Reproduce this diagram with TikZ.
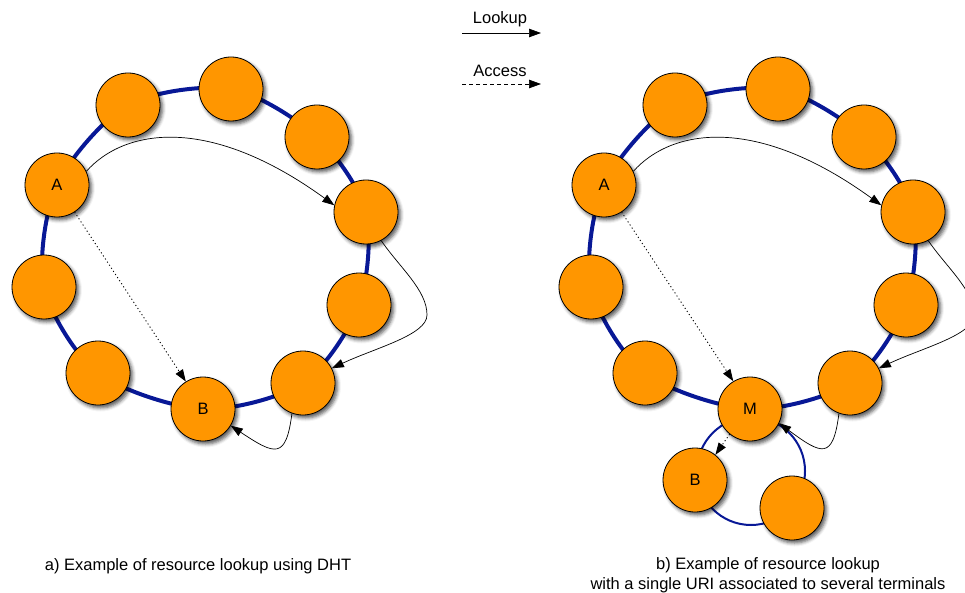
\documentclass[tikz,border=0pt]{standalone}
\usepackage{fontspec}
\setmainfont{Liberation Sans}
\usetikzlibrary{arrows.meta,shadows.blur}
\definecolor{peerorange}{RGB}{255,150,0}
\definecolor{ringblue}{RGB}{8,24,150}
\begin{document}
\begin{tikzpicture}[x=1pt,y=-1pt,
  txt/.style={font=\fontsize{16.5}{20}\selectfont},
  peer/.style={circle,draw=black,line width=0.8pt,fill=peerorange,minimum size=64pt,inner sep=0pt,txt,
    blur shadow={shadow xshift=2.5pt,shadow yshift=-3pt,shadow blur radius=3.5pt,shadow opacity=65}},
  ring/.style={draw=ringblue,line width=4pt},
  smallring/.style={draw=ringblue,line width=2pt},
  lookup/.style={-{Triangle[length=12pt,width=8.5pt]},line width=0.7pt},
  access/.style={lookup,line width=0.9pt,dash pattern=on 1.1pt off 2.6pt},
  legacc/.style={lookup,dash pattern=on 4pt off 3pt}]
\useasboundingbox (0,0) rectangle (965,593);

% ---------- a) ----------
\begin{scope}
\coordinate (pA) at (57,185);
\coordinate (p1) at (128,105);
\coordinate (p2) at (231,89);
\coordinate (p3) at (317,137);
\coordinate (p4) at (366,212);
\coordinate (p5) at (359,305);
\coordinate (p6) at (303,383);
\coordinate (pB) at (203,409);
\coordinate (p8) at (98,373);
\coordinate (p9) at (44,287);
\draw[ring] plot[smooth cycle] coordinates {(pA) (p1) (p2) (p3) (p4) (p5) (p6) (pB) (p8) (p9)};
\node[peer] (A) at (pA) {A};
\node[peer] (n1) at (p1) {};
\node[peer] (n2) at (p2) {};
\node[peer] (n3) at (p3) {};
\node[peer] (n4) at (p4) {};
\node[peer] (n5) at (p5) {};
\node[peer] (n6) at (p6) {};
\node[peer] (B) at (pB) {B};
\node[peer] (n8) at (p8) {};
\node[peer] (n9) at (p9) {};
\draw[lookup] (A.25) .. controls (125,128) and (210,115) .. (n4.168);
\draw[lookup] (n4.-62) .. controls (400,268) and (427,290) .. (427,315) .. controls (427,335) and (375,348) .. (n6.27);
\draw[lookup] (n6.-110) .. controls (286,460) and (275,455) .. (B.-31);
\draw[access] (A.-57) -- (B.122);
\end{scope}

% ---------- b) ----------
\begin{scope}[xshift=547pt]
\coordinate (qA) at (57,185);
\coordinate (q1) at (128,105);
\coordinate (q2) at (231,89);
\coordinate (q3) at (317,137);
\coordinate (q4) at (366,212);
\coordinate (q5) at (359,305);
\coordinate (q6) at (303,383);
\coordinate (qM) at (203,409);
\coordinate (q8) at (98,373);
\coordinate (q9) at (44,287);
\coordinate (qc) at (204,471);
\draw[smallring] (qc) circle[radius=54];
\draw[ring] plot[smooth cycle] coordinates {(qA) (q1) (q2) (q3) (q4) (q5) (q6) (qM) (q8) (q9)};
\node[peer] (bB) at (148,480) {B};
\node[peer] (bC) at (245,508) {};
\node[peer] (bA) at (qA) {A};
\node[peer] (m1) at (q1) {};
\node[peer] (m2) at (q2) {};
\node[peer] (m3) at (q3) {};
\node[peer] (m4) at (q4) {};
\node[peer] (m5) at (q5) {};
\node[peer] (m6) at (q6) {};
\node[peer] (M) at (qM) {M};
\node[peer] (m8) at (q8) {};
\node[peer] (m9) at (q9) {};
\draw[lookup] (bA.25) .. controls (125,128) and (210,115) .. (m4.168);
\draw[lookup] (m4.-62) .. controls (400,268) and (427,290) .. (427,315) .. controls (427,335) and (375,348) .. (m6.27);
\draw[lookup] (m6.-110) .. controls (286,460) and (275,455) .. (M.-26);
\draw[access] (bA.-57) -- (M.121);
\draw[access] (M.-129) -- (bB.51);
\end{scope}

% ---------- legend ----------
\node[txt] (lk) at (500,19) {Lookup};
\coordinate (lk1) at (462,33);
\coordinate (lk2) at (541,33);
\draw[lookup] (lk1) -- (lk2);
\node[txt] (ac) at (500,71) {Access};
\coordinate (ac1) at (462,84);
\coordinate (ac2) at (541,84);
\draw[legacc] (ac1) -- (ac2);

% ---------- captions ----------
\node[txt] (capa) at (198,566) {a) Example of resource lookup using DHT};
\node[txt,align=center] (capb) at (768,575) {b) Example of resource lookup\\with a single URI associated to several terminals};
\end{tikzpicture}
\end{document}
